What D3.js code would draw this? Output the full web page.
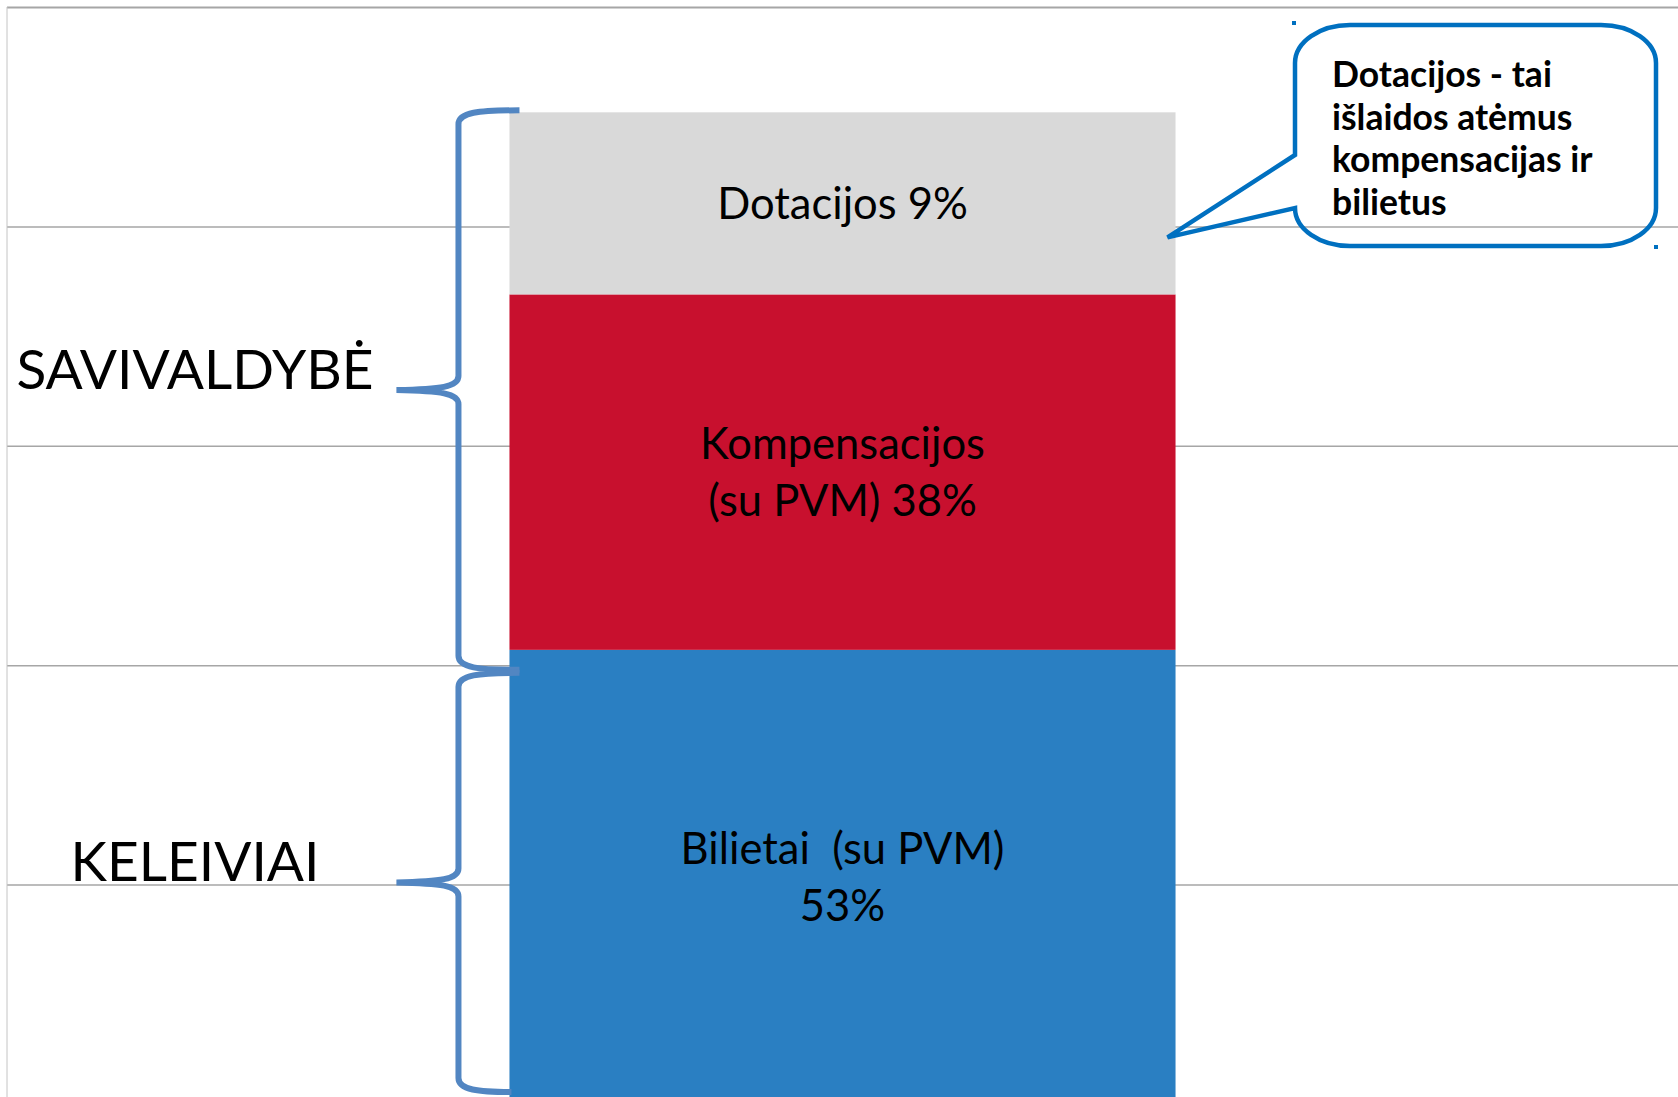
<!DOCTYPE html>
<html>
<head>
<meta charset="utf-8">
<script src="https://cdn.jsdelivr.net/npm/d3@7"></script>
<style>
  body { margin: 0; background: #fff; }
  svg text { font-family: Lato, "Open Sans", sans-serif; fill: #000; white-space: pre; }
</style>
</head>
<body>
<div id="wrapper"></div>
<script>
// DATA
const segments = ["Bilietai", "Kompensacijos", "Dotacijos"];
const segmentValues = [2.07, 1.62, 0.83];
const segmentLabels = [
  ["Bilietai  (su PVM)", "53%"],
  ["Kompensacijos", "(su PVM) 38%"],
  ["Dotacijos 9%"]
];
const gridTicks = [0, 1, 2, 3, 4, 5];
const groupNames = ["SAVIVALDYBĖ", "KELEIVIAI"];
const groupMembers = [["Kompensacijos", "Dotacijos"], ["Bilietai"]];
const calloutLines = ["Dotacijos - tai", "išlaidos atėmus", "kompensacijas ir", "bilietus"];

function drawChart() {
  const dimensions = {
    width: 1678,
    height: 1097,
    margin: { top: 7, left: 7 }
  };

  const wrapper = d3.select("#wrapper")
    .append("svg")
    .attr("width", dimensions.width)
    .attr("height", dimensions.height);

  // SCALES
  const row = {};
  segments.forEach((s, i) => row[s] = segmentValues[i]);
  const stacked = d3.stack().keys(segments)([row]);

  const xScale = d3.scaleBand()
    .domain(["total"])
    .range([dimensions.margin.left, dimensions.width])
    .padding(0.43);

  const yScale = d3.scaleLinear()
    .domain([0, 5])
    .range([1104, dimensions.margin.top]);

  const colorScale = d3.scaleOrdinal()
    .domain(segments)
    .range(["#2a7fc2", "#c8102e", "#d9d9d9"]);

  // GRID
  const grid = wrapper.append("g")
    .attr("transform", `translate(${dimensions.margin.left},0)`)
    .call(d3.axisLeft(yScale)
      .tickValues(gridTicks)
      .tickSize(-(dimensions.width - dimensions.margin.left))
      .tickFormat(""));
  grid.select(".domain").remove();
  grid.selectAll(".tick line")
    .attr("stroke", "#a6a6a6")
    .attr("stroke-width", d => d === 5 ? 2 : 1.5);

  wrapper.append("line")
    .attr("x1", dimensions.margin.left).attr("x2", dimensions.margin.left)
    .attr("y1", dimensions.margin.top).attr("y2", dimensions.height)
    .attr("stroke", "#c4c4c4")
    .attr("stroke-width", 1);

  // BARS
  wrapper.selectAll(".segment")
    .data(stacked)
    .enter().append("rect")
    .attr("class", "segment")
    .attr("x", xScale("total"))
    .attr("width", xScale.bandwidth())
    .attr("y", d => yScale(d[0][1]))
    .attr("height", d => yScale(d[0][0]) - yScale(d[0][1]))
    .attr("fill", d => colorScale(d.key));

  const labelSize = 43.5;
  const lineHeight = 57;
  const cx = xScale("total") + xScale.bandwidth() / 2;
  stacked.forEach((layer, i) => {
    const lines = segmentLabels[i];
    const mid = (yScale(layer[0][0]) + yScale(layer[0][1])) / 2;
    const firstBase = mid - (lines.length - 1) * lineHeight / 2 + labelSize * 0.36;
    wrapper.append("text")
      .attr("text-anchor", "middle")
      .attr("font-size", labelSize)
      .selectAll("tspan")
      .data(lines)
      .enter().append("tspan")
      .attr("x", cx)
      .attr("y", (d, j) => firstBase + j * lineHeight)
      .text(d => d);
  });

  // BRACES
  const byKey = {};
  stacked.forEach(l => byKey[l.key] = l[0]);
  const barLeft = xScale("total");
  const stemX = barLeft - 51;
  const tipX = barLeft - 113;

  function bracePath(yTop, yBot, endTop, endBot) {
    const yMid = (yTop + yBot) / 2;
    return `M${endTop},${yTop}
      C${stemX + 20},${yTop} ${stemX},${yTop + 2} ${stemX},${yTop + 14}
      L${stemX},${yMid - 14}
      C${stemX},${yMid - 3} ${stemX - 18},${yMid - 1} ${tipX},${yMid}
      C${stemX - 18},${yMid + 1} ${stemX},${yMid + 3} ${stemX},${yMid + 14}
      L${stemX},${yBot - 14}
      C${stemX},${yBot - 2} ${stemX + 20},${yBot} ${endBot},${yBot}`;
  }

  const braceSpans = groupMembers.map(keys => {
    const top = d3.max(keys, k => byKey[k][1]);
    const bottom = d3.min(keys, k => byKey[k][0]);
    return [top, bottom];
  });
  const braceCoords = [
    [yScale(braceSpans[0][0]) - 2, yScale(braceSpans[0][1]) + 20, barLeft + 10, barLeft + 10],
    [yScale(braceSpans[1][0]) + 23, yScale(braceSpans[1][1]) - 12, barLeft + 10, barLeft + 2]
  ];

  wrapper.selectAll(".brace")
    .data(braceCoords)
    .enter().append("path")
    .attr("class", "brace")
    .attr("d", d => bracePath(...d))
    .attr("fill", "none")
    .attr("stroke", "#5286c2")
    .attr("stroke-width", 6)
    .attr("stroke-linecap", "butt");

  wrapper.selectAll(".group-label")
    .data(groupNames)
    .enter().append("text")
    .attr("class", "group-label")
    .attr("x", 195)
    .attr("y", (d, i) => (braceCoords[i][0] + braceCoords[i][1]) / 2 - 1)
    .attr("text-anchor", "middle")
    .attr("font-size", 55)
    .text(d => d);

  // CALLOUT
  const box = { x0: 1295, y0: 25, x1: 1656, y1: 246, rx: 55, ry: 38 };
  const greyBottom = yScale(byKey["Dotacijos"][0]);
  const tip = [barLeft + xScale.bandwidth() - 8, greyBottom - 57];
  const wedgeTop = 155;
  const wedgeBottom = box.y1 - box.ry;
  const calloutPath = `M${box.x0 + box.rx},${box.y0}
    L${box.x1 - box.rx},${box.y0}
    A${box.rx},${box.ry} 0 0 1 ${box.x1},${box.y0 + box.ry}
    L${box.x1},${box.y1 - box.ry}
    A${box.rx},${box.ry} 0 0 1 ${box.x1 - box.rx},${box.y1}
    L${box.x0 + box.rx},${box.y1}
    A${box.rx},${box.ry} 0 0 1 ${box.x0},${wedgeBottom}
    L${tip[0]},${tip[1]}
    L${box.x0},${wedgeTop}
    L${box.x0},${box.y0 + box.ry}
    A${box.rx},${box.ry} 0 0 1 ${box.x0 + box.rx},${box.y0} Z`;

  wrapper.append("path")
    .attr("d", calloutPath)
    .attr("fill", "none")
    .attr("stroke", "#0070c0")
    .attr("stroke-width", 4.5)
    .attr("stroke-linejoin", "miter");

  wrapper.append("text")
    .attr("font-size", 35.5)
    .attr("font-weight", "bold")
    .selectAll("tspan")
    .data(calloutLines)
    .enter().append("tspan")
    .attr("x", 1332)
    .attr("y", (d, i) => 87 + i * 42.5)
    .text(d => d);

  // selection handles
  wrapper.selectAll(".handle")
    .data([[box.x0 - 1, box.y0 - 2], [box.x1, box.y1 + 1]])
    .enter().append("rect")
    .attr("class", "handle")
    .attr("x", d => d[0] - 2)
    .attr("y", d => d[1] - 2)
    .attr("width", 4)
    .attr("height", 4)
    .attr("fill", "#0070c0");
}
drawChart();
</script>
</body>
</html>
